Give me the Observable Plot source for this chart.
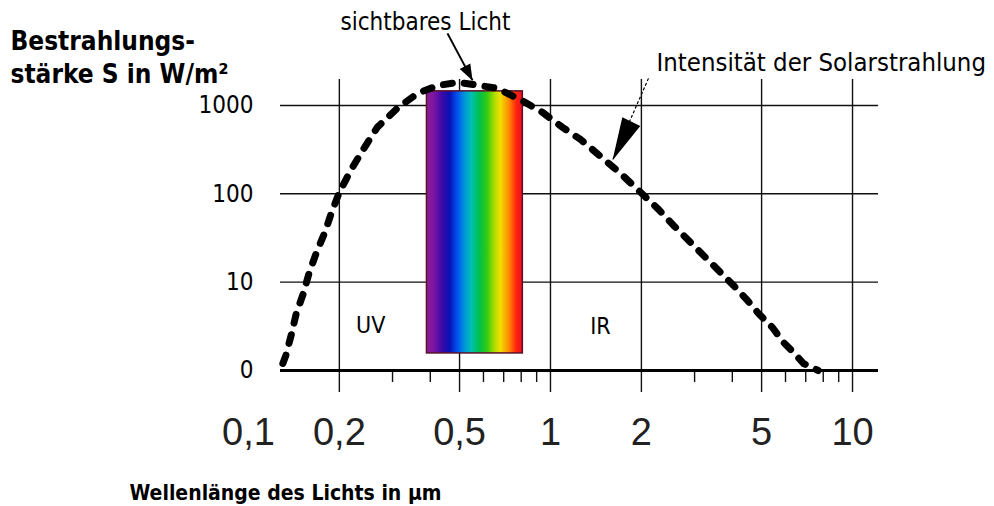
<!DOCTYPE html>
<html><head><meta charset="utf-8">
<script src="https://cdn.jsdelivr.net/npm/d3@7"></script>
<script src="https://cdn.jsdelivr.net/npm/@observablehq/plot@0.6"></script>
<style>body{margin:0;background:#fff}</style>
</head><body><div id="chart"></div>
<script>
// Solar spectrum, wavelength in µm, irradiance in W/m²
const wavelength = [0.130,0.133,0.139,0.144,0.152,0.159,0.168,0.179,0.188,0.200,0.218,0.240,0.267,0.311,0.363,0.426,0.496,0.578,0.668,0.814,0.941,1.096,1.257,1.465,1.706,1.987,2.279,2.555,2.909,3.335,3.656,4.037,4.489,4.884,5.43,5.91,6.38,6.88,7.7];
const irradiance = [1.2,1.48,2.62,4.42,7.45,12.9,21.7,36.5,60,104,184,318,565,927,1371,1690,1827,1690,1562,1113,835,565,413,265,170,104,66.6,43.9,28.2,17.6,12.9,9.18,6.21,4.42,3.07,2.08,1.6,1.2,1.0];

const xMajor = [0.2, 0.5, 1, 2, 5, 10];
const xMinor = [0.3, 0.4, 0.6, 0.7, 0.8, 0.9, 3, 4, 6, 7, 8, 9];
const xTickValues = [0.1, 0.2, 0.5, 1, 2, 5, 10];
const xTickLabels = ["0,1", "0,2", "0,5", "1", "2", "5", "10"];
const yGrid = [10, 100, 1000];
const yTickValues = [1, 10, 100, 1000];
const yTickLabels = ["0", "10", "100", "1000"];

// visible light band
const visibleX = [0.39, 0.81];
const visibleY = [1.56, 1445];

// annotations (data coordinates)
const regionLabels = [{text: "UV", x: 0.254, y: 3.2}, {text: "IR", x: 1.464, y: 3.1}];
const lichtLabel = {text: "sichtbares Licht", x: 0.3855, y: 8730};
const lichtArrow = {x1: 0.456, y1: 6553, x2: 0.552, y2: 1923};
const solarLabel = {text: "Intensität der Solarstrahlung", x: 2.244, y: 3076};
const solarArrow = {x1: 2.111, y1: 2027, x2: 1.604, y2: 239};

const spectrumStops = [
  [0, "#8e1e96"], [0.08, "#7a14a4"], [0.16, "#3c0aa8"], [0.24, "#0a10b4"],
  [0.32, "#0050f0"], [0.40, "#0098d8"], [0.47, "#00c0b0"], [0.55, "#00c050"],
  [0.63, "#30cc10"], [0.71, "#b0dc00"], [0.77, "#f0e000"], [0.86, "#ff8a00"],
  [0.94, "#ff2010"], [1, "#f01020"]
];

const curve = wavelength.map((w, i) => ({w, s: irradiance[i]}));
const FONT = "DejaVu Sans Condensed, DejaVu Sans, sans-serif";

const chart = Plot.plot({
  width: 994, height: 506,
  marginLeft: 280, marginRight: 116, marginTop: 79, marginBottom: 136,
  style: {background: "white", overflow: "visible", fontFamily: FONT},
  x: {type: "log", domain: [0.1277, 12.19], axis: null},
  y: {type: "log", domain: [1, 1968], axis: null},
  marks: [
    Plot.ruleX(xMajor, {stroke: "#111", strokeWidth: 1.4}),
    Plot.ruleY(yGrid, {stroke: "#111", strokeWidth: 1.4}),
    Plot.axisX(xMajor, {tickSize: 22, tickFormat: () => "", stroke: "#111", strokeWidth: 1.4}),
    Plot.axisX(xMinor, {tickSize: 12, tickFormat: () => "", stroke: "#111", strokeWidth: 1.4}),
    Plot.ruleY([1], {stroke: "#000", strokeWidth: 3}),
    Plot.rect([{x1: visibleX[0], x2: visibleX[1], y1: visibleY[0], y2: visibleY[1]}],
      {x1: "x1", x2: "x2", y1: "y1", y2: "y2", fill: "url(#spectrum)", stroke: "#5a1028", strokeWidth: 1.5}),
    Plot.line(curve, {x: "w", y: "s", stroke: "#000", strokeWidth: 7, strokeDasharray: "9,12"}),
    // tick labels
    Plot.text(xTickValues, {x: d => d, text: (d, i) => xTickLabels[i], frameAnchor: "bottom", dy: 74,
      fontSize: 38, fontFamily: "Liberation Sans, Arial, sans-serif", fill: "#222"}),
    Plot.text(yTickValues, {y: d => d, text: (d, i) => yTickLabels[i], frameAnchor: "left", dx: -27,
      textAnchor: "end", fontSize: 24, fill: "#000"}),
    // region labels
    Plot.text(regionLabels, {x: "x", y: "y", text: "text", fontSize: 23, fill: "#000"}),
    // annotations
    Plot.text([lichtLabel], {x: "x", y: "y", text: "text", fontSize: 24, fill: "#000"}),
    Plot.link([lichtArrow], {x1: "x1", y1: "y1", x2: "x2", y2: "y2", stroke: "#000", strokeWidth: 2}),
    Plot.vector([lichtArrow], {x: "x2", y: "y2", anchor: "end", rotate: 152, length: 16, r: 6, shape: "spike", fill: "#000", stroke: "none"}),
    Plot.text([solarLabel], {x: "x", y: "y", text: "text", textAnchor: "start", fontSize: 25.5, fill: "#000"}),
    Plot.link([solarArrow], {x1: "x1", y1: "y1", x2: "x2", y2: "y2", stroke: "#000", strokeWidth: 1.2, strokeDasharray: "3,2"}),
    Plot.vector([solarArrow], {x: "x2", y: "y2", anchor: "end", rotate: 206, length: 43, r: 10, shape: "spike", fill: "#000", stroke: "none"}),
    // axis titles
    Plot.text(["Bestrahlungs-\nstärke S in W/m²"], {frameAnchor: "top-left", dx: -270, dy: -54, lineAnchor: "top",
      textAnchor: "start", lineHeight: 1.3, fontSize: 26, fontWeight: "bold", fill: "#000"}),
    Plot.text(["Wellenlänge des Lichts in µm"], {frameAnchor: "bottom-left", dx: 5, dy: 129, textAnchor: "middle",
      fontSize: 21, fontWeight: "bold", fill: "#000"})
  ]
});

const svg = d3.select(chart);
const grad = svg.insert("defs", ":first-child").append("linearGradient")
  .attr("id", "spectrum").attr("x1", "0").attr("x2", "1").attr("y1", "0").attr("y2", "0");
spectrumStops.forEach(([o, c]) => grad.append("stop").attr("offset", o).attr("stop-color", c));

document.getElementById("chart").appendChild(chart);
</script>
</body></html>
